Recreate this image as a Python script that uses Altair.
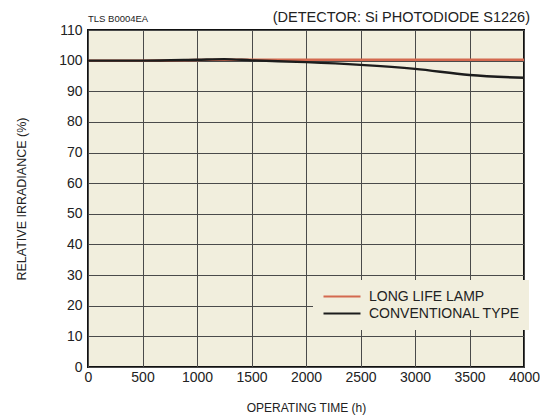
import altair as alt
import pandas as pd

# Data
hours = [0, 500, 1000, 1250, 1500, 2000, 2500, 3000, 3500, 4000]
long_life = [100.0, 100.0, 100.2, 100.3, 100.3, 100.3, 100.3, 100.3, 100.3, 100.3]
conventional = [100.0, 100.0, 100.3, 100.5, 100.1, 99.5, 98.6, 97.3, 95.3, 94.4]
series_names = ["LONG LIFE LAMP", "CONVENTIONAL TYPE"]
series_colors = ["#D4694F", "#1c1c1c"]
x_ticks = [0, 500, 1000, 1500, 2000, 2500, 3000, 3500, 4000]
y_ticks = [0, 10, 20, 30, 40, 50, 60, 70, 80, 90, 100, 110]
header_left = "TLS B0004EA"
header_right = "(DETECTOR: Si PHOTODIODE S1226)"

rows = []
for name, vals in zip(series_names, [long_life, conventional]):
    for h, v in zip(hours, vals):
        rows.append({"hours": h, "value": v, "series": name})
df = pd.DataFrame(rows)
df["order"] = df["series"].map({series_names[0]: 0, series_names[1]: 1})

FONT = "Liberation Sans"
W, H = 436, 337

lines = alt.Chart(df).mark_line(strokeWidth=2.4, interpolate="monotone").encode(
    x=alt.X("hours:Q",
            scale=alt.Scale(domain=[0, 4000], nice=False, zero=True),
            axis=alt.Axis(values=x_ticks, title="OPERATING TIME (h)", format="d",
                          labelFontSize=14, titleFontSize=12, titleFontWeight="normal",
                          labelColor="#222", titleColor="#222", labelPadding=3,
                          ticks=False, domain=False, grid=True, gridColor="#4a4a4a",
                          gridOpacity=1, gridWidth=1, titlePadding=18,
                          labelFont=FONT, titleFont=FONT, labelFlush=False)),
    y=alt.Y("value:Q",
            scale=alt.Scale(domain=[0, 110], nice=False),
            axis=alt.Axis(values=y_ticks, title="RELATIVE IRRADIANCE (%)",
                          labelFontSize=14, titleFontSize=12.5, titleFontWeight="normal",
                          labelColor="#222", titleColor="#222", labelPadding=6,
                          ticks=False, domain=False, grid=True, gridColor="#4a4a4a",
                          gridOpacity=1, gridWidth=1, titlePadding=30,
                          labelFont=FONT, titleFont=FONT)),
    color=alt.Color("series:N",
                    scale=alt.Scale(domain=series_names, range=series_colors),
                    legend=alt.Legend(title=None, orient="none", legendX=225, legendY=250,
                                      symbolType="stroke", symbolSize=1370,
                                      symbolStrokeWidth=2.2, labelFontSize=14,
                                      labelFont=FONT, labelColor="#222",
                                      rowPadding=2, labelOffset=7, clipHeight=15,
                                      fillColor="#F1EEDD", padding=9)),
    order=alt.Order("order:Q"),
    detail="series:N",
)

tls = alt.Chart(pd.DataFrame({"t": [header_left]})).mark_text(
    align="left", baseline="alphabetic", fontSize=9.5, font=FONT, color="#222"
).encode(x=alt.value(0), y=alt.value(-8), text="t:N")

det = alt.Chart(pd.DataFrame({"t": [header_right]})).mark_text(
    align="right", baseline="alphabetic", fontSize=14.5, font=FONT, color="#222"
).encode(x=alt.value(442), y=alt.value(-8), text="t:N")

chart = alt.layer(lines, tls, det).properties(
    width=W, height=H,
    autosize=alt.AutoSizeParams(type="none"),
    padding={"left": 80, "top": 22, "right": 16, "bottom": 51},
).configure_view(
    fill="#F1EEDD", stroke="#111", strokeWidth=2
)

chart.save("out.html", embed_options={"renderer": "svg", "actions": False})
